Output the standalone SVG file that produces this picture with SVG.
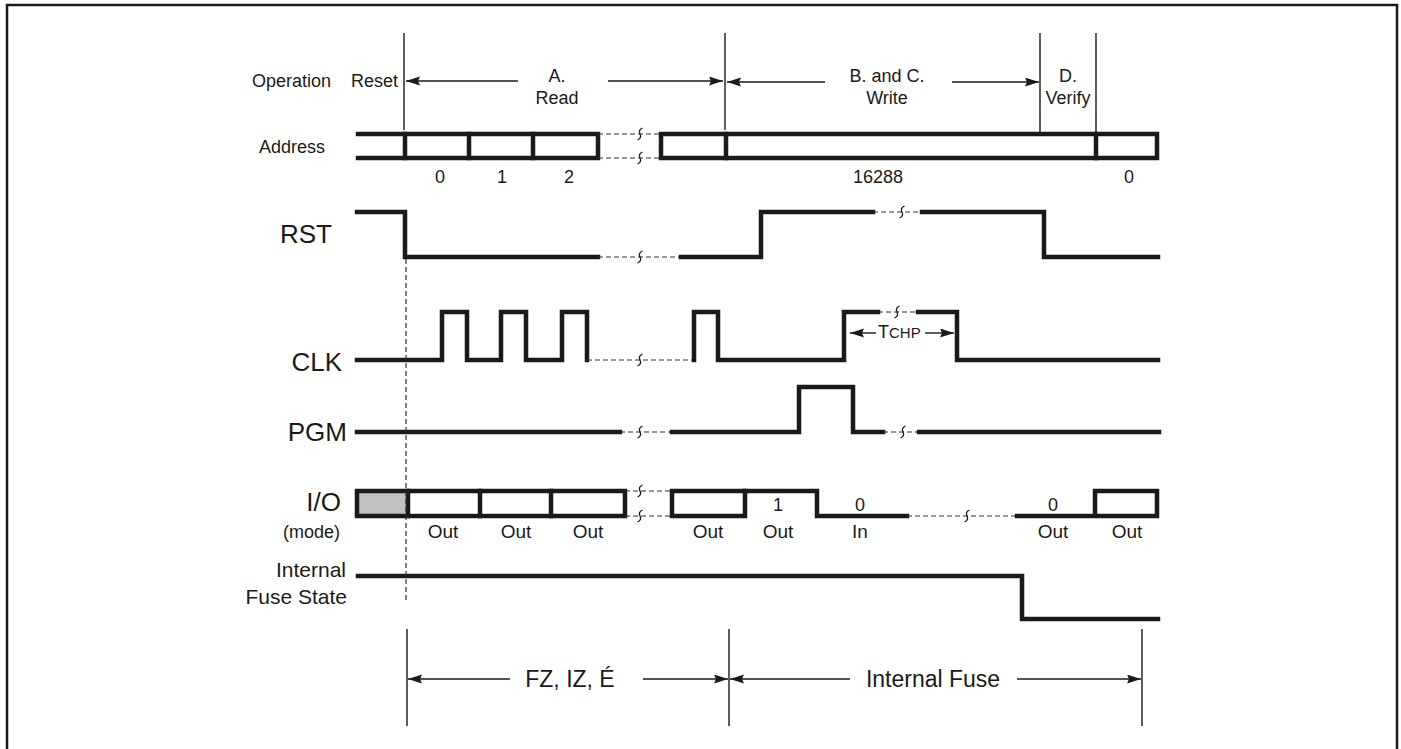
<svg xmlns="http://www.w3.org/2000/svg" width="1401" height="749" viewBox="0 0 1401 749">
<defs>
<marker id="ah" markerUnits="userSpaceOnUse" markerWidth="15" markerHeight="10" refX="14" refY="4.5" orient="auto">
<path d="M0,0 L14,4.5 L0,9 L2,4.5 Z" fill="#1a1a1a"/>
</marker>
<style>
text{font-family:"Liberation Sans",Arial,sans-serif;fill:#1a1a1a}
.w{fill:none;stroke:#1a1a1a;stroke-width:4.5;stroke-linejoin:miter;stroke-linecap:square}
.d{fill:none;stroke:#333;stroke-width:1.2;stroke-dasharray:5,3}
.t{fill:none;stroke:#1a1a1a;stroke-width:1.4}
.a{fill:none;stroke:#1a1a1a;stroke-width:1.4;marker-end:url(#ah)}
.br{fill:none;stroke:#1a1a1a;stroke-width:1.3}
.s18{font-size:18px}
.s26{font-size:26px}
.m{text-anchor:middle}
.e{text-anchor:end}
</style>
</defs>
<rect x="7" y="5" width="1390" height="760" fill="#fff" stroke="#1a1a1a" stroke-width="2.5"/>

<g id="labels">
<text x="252" y="87" class="s18">Operation</text>
<text x="398" y="87" class="s18 e">Reset</text>
<text x="259" y="153" class="s18">Address</text>
<text x="332" y="243" class="s26 e">RST</text>
<text x="342" y="371" class="s26 e">CLK</text>
<text x="347" y="441" class="s26 e">PGM</text>
<text x="341" y="511" class="s26 e">I/O</text>
<text x="340" y="538" class="s18 e">(mode)</text>
<text x="346" y="577" class="e" font-size="21">Internal</text>
<text x="347" y="604" class="e" font-size="21">Fuse State</text>
</g>

<g id="operation">
<text x="557" y="82" class="s18 m">A.</text>
<text x="557" y="104" class="s18 m">Read</text>
<text x="887" y="82" class="s18 m">B. and C.</text>
<text x="887" y="104" class="s18 m">Write</text>
<text x="1068" y="82" class="s18 m">D.</text>
<text x="1068" y="104" class="s18 m">Verify</text>
</g>

<g id="address">
<path class="w" d="M358,134 H598 V158 H358"/>
<path class="w" d="M405,134 V158 M469,134 V158 M533,134 V158"/>
<path class="d" d="M598,134 H661 M598,158 H661"/>
<path class="br" d="M642.5,128 Q638,130 640,134 Q642,138 637.5,140 M642.5,152 Q638,154 640,158 Q642,162 637.5,164"/>
<path class="w" d="M661,134 H1157 V158 H661 Z"/>
<path class="w" d="M726,134 V158 M1096,134 V158"/>
<text x="440" y="183" class="s18 m">0</text>
<text x="502" y="183" class="s18 m">1</text>
<text x="569" y="183" class="s18 m">2</text>
<text x="878" y="183" class="s18 m">16288</text>
<text x="1129" y="183" class="s18 m">0</text>
</g>

<g id="rst">
<path class="w" d="M357,212 H405 V257 H598"/>
<path class="d" d="M598,257 H681"/>
<path class="br" d="M642.5,251 Q638,253 640,257 Q642,261 637.5,263"/>
<path class="w" d="M681,257 H761 V212 H873"/>
<path class="d" d="M873,212 H922"/>
<path class="br" d="M904.5,206 Q900,208 902,212 Q904,216 899.5,218"/>
<path class="w" d="M922,212 H1044 V257 H1158"/>
</g>

<g id="clk">
<path class="w" d="M357,360 H442 V312 H467 V360 H501 V312 H526 V360 H562 V312 H587 V360"/>
<path class="d" d="M587,360 H694"/>
<path class="br" d="M642.5,354 Q638,356 640,360 Q642,364 637.5,366"/>
<path class="w" d="M694,360 V312 H718 V360 H844 V312 H878"/>
<path class="d" d="M878,312 H918"/>
<path class="br" d="M899.5,306 Q895,308 897,312 Q899,316 894.5,318"/>
<path class="w" d="M918,312 H957 V360 H1158"/>
<text x="878" y="338" font-size="18">T<tspan font-size="15">CHP</tspan></text>
</g>

<g id="pgm">
<path class="w" d="M357,432 H620"/>
<path class="d" d="M620,432 H672"/>
<path class="br" d="M642.5,426 Q638,428 640,432 Q642,436 637.5,438"/>
<path class="w" d="M672,432 H799 V387 H853 V432 H883"/>
<path class="d" d="M883,432 H919"/>
<path class="br" d="M905.5,426 Q901,428 903,432 Q905,436 900.5,438"/>
<path class="w" d="M919,432 H1159"/>
</g>

<g id="io">
<rect x="357" y="491" width="51" height="25" fill="#c0c0c0"/>
<path class="w" d="M357,491 H625 V516 H357 Z"/>
<path class="w" d="M408,491 V516 M480,491 V516 M551,491 V516"/>
<path class="d" d="M625,491 H672 M625,516 H672"/>
<path class="br" d="M642.5,485 Q638,487 640,491 Q642,495 637.5,497 M642.5,510 Q638,512 640,516 Q642,520 637.5,522"/>
<path class="w" d="M672,491 H745 V516 H672 Z"/>
<path class="w" d="M745,491 H817 V516 H907"/>
<path class="d" d="M907,516 H1017"/>
<path class="br" d="M969.5,510 Q965,512 967,516 Q969,520 964.5,522"/>
<path class="w" d="M1017,516 H1095 V491 H1157 V516 H1095"/>
<text x="778" y="511" class="s18 m">1</text>
<text x="860" y="511" class="s18 m">0</text>
<text x="1053" y="511" class="s18 m">0</text>
<text x="443" y="538" class="m" font-size="19">Out</text>
<text x="516" y="538" class="m" font-size="19">Out</text>
<text x="588" y="538" class="m" font-size="19">Out</text>
<text x="708" y="538" class="m" font-size="19">Out</text>
<text x="778" y="538" class="m" font-size="19">Out</text>
<text x="860" y="538" class="m" font-size="19">In</text>
<text x="1053" y="538" class="m" font-size="19">Out</text>
<text x="1127" y="538" class="m" font-size="19">Out</text>
</g>

<g id="fuse">
<path class="w" d="M358,576 H1022 V619 H1158"/>
</g>

<g id="bottom">
<text x="570" y="687" class="m" font-size="23">FZ, IZ, É</text>
<text x="933" y="687" class="m" font-size="23">Internal Fuse</text>
</g>

<g id="connectors">
<path class="t" d="M404,33 V130 M725,33 V130 M1040,33 V132 M1096,33 V132"/>
<path class="a" d="M518,81 H406"/>
<path class="a" d="M608,81 H723"/>
<path class="a" d="M825,82 H727"/>
<path class="a" d="M952,82 H1039"/>
<path class="d" d="M406,259 V603"/>
<path class="a" d="M876,333 H850"/>
<path class="a" d="M925,333 H954"/>
<path class="t" d="M407,629 V726 M729,629 V726 M1142,629 V726"/>
<path class="a" d="M510,679 H408"/>
<path class="a" d="M643,679 H728"/>
<path class="a" d="M850,679 H730"/>
<path class="a" d="M1017,679 H1141"/>
</g>
</svg>
